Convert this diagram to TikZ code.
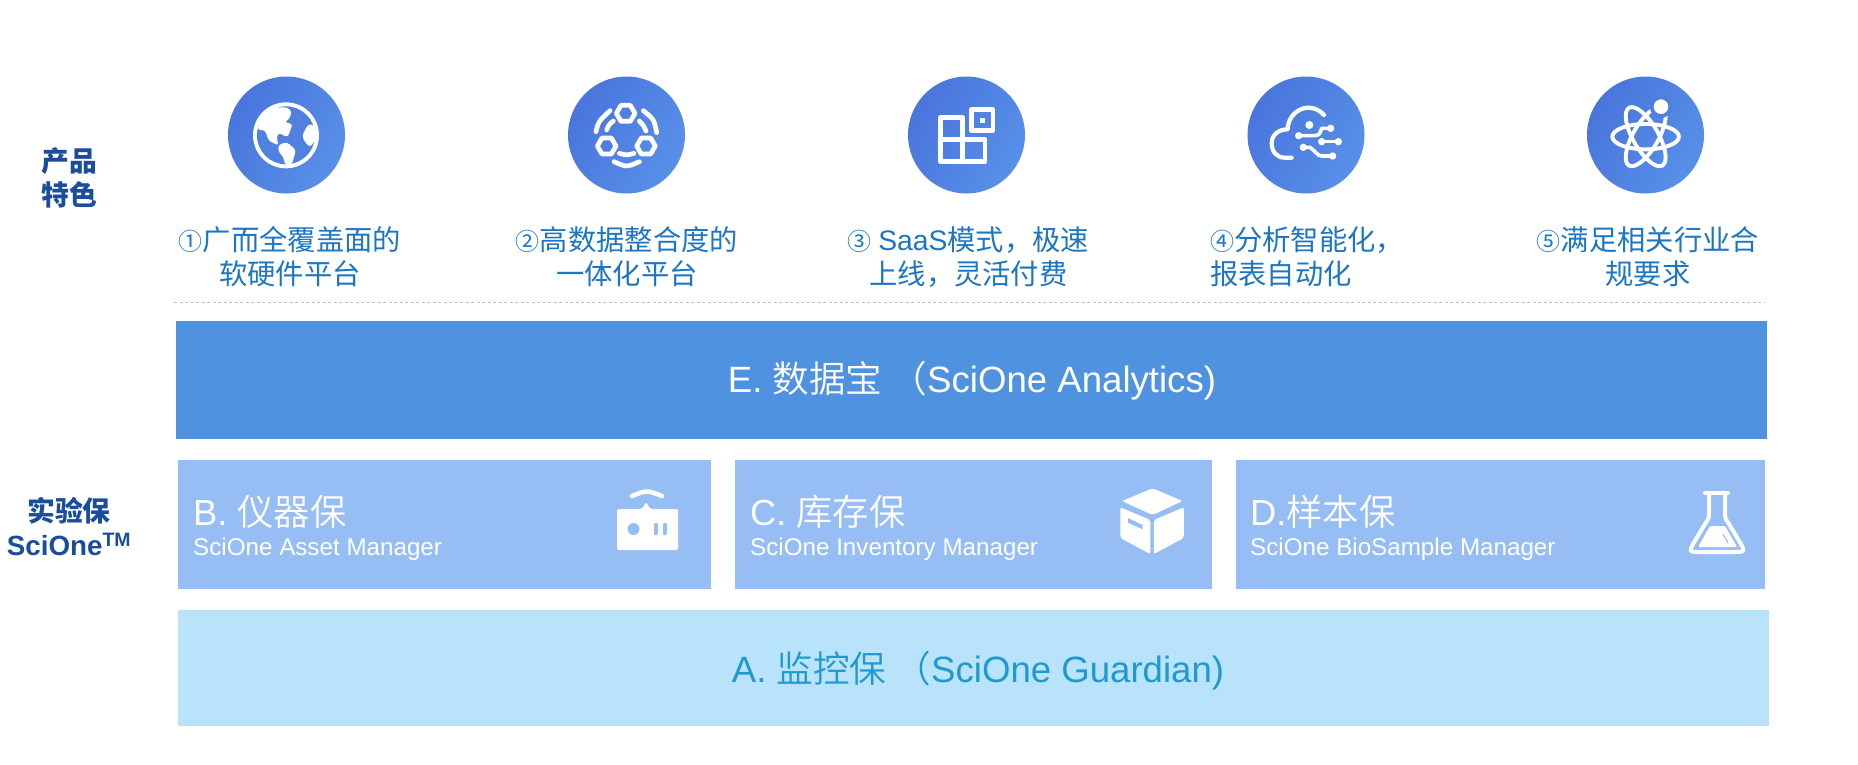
\documentclass[tikz,border=0pt]{standalone}
\usepackage{fontspec}
\setmainfont{Liberation Sans}
\newfontfamily\cjk{Noto Sans CJK SC}
\newfontfamily\cjkl{Noto Sans CJK SC}[UprightFont={* DemiLight}]
\usetikzlibrary{calc}
\definecolor{boxE}{HTML}{4F92E0}
\definecolor{boxM}{HTML}{96BEF5}
\definecolor{boxA}{HTML}{B9E2FB}
\definecolor{txtA}{HTML}{1E9AD0}
\definecolor{txtF}{HTML}{1B76C4}
\definecolor{txtL}{HTML}{1A4D9B}
\definecolor{circA}{HTML}{4975DC}
\definecolor{circB}{HTML}{5890E8}
\definecolor{circM}{HTML}{4F7EE0}
\newcommand{\dgt}[1]{{\fontsize{24}{34}\selectfont #1}}
\tikzset{
  x=1pt,y=-1pt,
  bigt/.style={font=\fontsize{36.6}{40}\selectfont,inner sep=0pt},
  feat/.style={text=txtF,inner sep=0pt,font=\cjk\fontsize{28.3}{34}\selectfont},
  sidet/.style={text=txtL,inner sep=0pt,font=\bfseries\fontsize{27.8}{34}\selectfont,align=center},
  titlet/.style={text=white,inner sep=0pt,anchor=base west,font=\fontsize{36.3}{40}\selectfont},
  subt/.style={text=white,inner sep=0pt,anchor=base west,font=\fontsize{24.2}{28}\selectfont},
  disc/.style={circle,minimum size=117pt,inner sep=0pt,left color=circA,right color=circB,shading angle=60},
  ico/.style={draw=white,line width=4.7pt,line cap=round,line join=round},
  zoomed/.style={x=0.33333pt,y=-0.33333pt},
}
\begin{document}
\begin{tikzpicture}
\useasboundingbox (0,0) rectangle (1858,764);
\fill[white] (0,0) rectangle (1858,764);

% circles
\node[disc] (c1) at (286.5,135) {};
\node[disc] (c2) at (626.5,135) {};
\node[disc] (c3) at (966.5,135) {};
\node[disc] (c4) at (1306,135) {};
\node[disc] (c5) at (1645.5,135) {};

% globe
\begin{scope}[shift={(170,50)},zoomed]
  \fill[white] (348,256) circle (99);
  \fill[circM!85!circB] (348,256) circle (87);
  \fill[white,rounded corners=3pt] (352,172) -- (366,185) -- (356,210) -- (342,216) -- (368,222) -- (353,262) -- (325,248) -- (320,265) -- (326,287) -- (296,272) -- (285,240) -- (262,240) -- (272,205) -- (310,172) -- cycle;
  \fill[white,rounded corners=3pt] (325,285) -- (350,276) -- (378,300) -- (365,345) -- (345,345) -- (340,320) -- (325,305) -- cycle;
  \fill[white,rounded corners=3pt] (415,222) -- (432,225) -- (440,265) -- (420,292) -- (408,280) -- (396,260) -- (405,240) -- cycle;
\end{scope}

% hexagons
\begin{scope}[shift={(560,60)},zoomed]
  \foreach \cx/\cy in {197/160,140/258,258/258}{
    \draw[ico] ($(\cx,\cy)+(28,0)$) -- ($(\cx,\cy)+(14,24)$) -- ($(\cx,\cy)+(-14,24)$) -- ($(\cx,\cy)+(-28,0)$) -- ($(\cx,\cy)+(-14,-24)$) -- ($(\cx,\cy)+(14,-24)$) -- cycle;
  }
  \draw[ico] (108,215) .. controls (115,185) .. (150,152);
  \draw[ico] (250,152) .. controls (282,178) .. (290,218);
  \draw[ico] (162,305) .. controls (200,322) .. (238,305);
  \draw[ico] (140,210) .. controls (146,195) .. (160,183);
  \draw[ico] (238,183) .. controls (250,195) .. (258,213);
  \draw[ico] (178,280) .. controls (200,286) .. (222,280);
\end{scope}

% blocks
\begin{scope}[shift={(740,50)},zoomed]
  \draw[ico] (695,179) rectangle (759,241);
  \fill[white] (720,203) rectangle (736,219);
  \draw[ico] (602,203) -- (668,203) -- (668,268) -- (735,268) -- (735,335) -- (602,335) -- cycle;
  \draw[ico] (602,268) -- (668,268) -- (668,335);
\end{scope}

% cloud
\begin{scope}[shift={(1240,60)},zoomed]
  \draw[ico,line width=4.2pt] (155,293) -- (135,293) .. controls (110,293) and (95,275) .. (95,250) .. controls (95,225) and (115,208) .. (143,208) .. controls (143,170) and (175,143) .. (205,143) .. controls (225,143) and (240,152) .. (252,165);
  \fill[white] (208,195) circle (12);
  \draw[ico,line width=3.6pt] (176,227) -- (222,227) .. controls (238,225) .. (245,205) -- (272,205);
  \draw[ico,line width=3.6pt] (245,245) -- (295,245);
  \draw[ico,line width=3.6pt] (190,262) -- (210,262) .. controls (225,272) and (232,288) .. (245,288) -- (278,288);
  \foreach \px/\py in {176/227,272/205,245/245,295/245,190/262,278/288}{\fill[white] (\px,\py) circle (11);}
\end{scope}

% atom
\begin{scope}[shift={(1240,60)},zoomed]
  \draw[white,line width=3.9pt] (1217,230) ellipse [x radius=100,y radius=38];
  \draw[white,line width=3.9pt,rotate around={60:(1217,230)}] (1217,230) ellipse [x radius=100,y radius=38];
  \draw[white,line width=3.9pt,rotate around={-60:(1217,230)}] (1217,230) ellipse [x radius=100,y radius=38];
  \fill[circM] (1263,140) circle (34);
  \fill[white] (1263,140) circle (22);
\end{scope}

% feature texts
\node[feat,align=center] (f1) at (290,257) {\dgt{①}广而全覆盖面的\\软硬件平台};
\node[feat,align=center] (f2) at (627,257) {\dgt{②}高数据整合度的\\一体化平台};
\node[feat,align=center] (f3) at (968.5,257) {\dgt{③} {\rmfamily SaaS}模式，极速\\上线，灵活付费};
\node[feat,align=left,anchor=west] (f4) at (1210,257) {\dgt{④}分析智能化，\\报表自动化};
\node[feat,align=center] (f5) at (1648,257) {\dgt{⑤}满足相关行业合\\规要求};

% side labels
\node[sidet,font=\cjk\bfseries\fontsize{27.8}{34}\selectfont] (s1) at (69,178) {产品\\特色};
\node[sidet] (s2) at (69,527) {{\cjk 实验保}\\SciOne\textsuperscript{TM}};

% dashed rule
\coordinate (r1) at (174,302);
\coordinate (r2) at (1765,302);
\draw[black!25,line width=0.8pt,dash pattern=on 3pt off 2.5pt] (r1) -- (r2);

% bands
\fill[boxE] (175.5,321) rectangle (1766.5,438.5);
\fill[boxM] (178,460) rectangle (711,589);
\fill[boxM] (734.5,460) rectangle (1212,589);
\fill[boxM] (1236,460) rectangle (1765,589);
\fill[boxA] (178,610) rectangle (1769,726);

\node[bigt,text=white] (e) at (972,381) {E. {\cjkl 数据宝 （}SciOne Analytics)};
\node[bigt,text=txtA] (a) at (978,671) {A. {\cjkl 监控保 （}SciOne Guardian)};

\node[titlet] (bt) at (193,525) {B. {\cjkl 仪器保}};
\node[subt] (bs) at (193,555) {SciOne Asset Manager};
\node[titlet] (ct) at (750,525) {C. {\cjkl 库存保}};
\node[subt] (cs) at (750,555) {SciOne Inventory Manager};
\node[titlet] (dt) at (1250,525) {D.{\cjkl 样本保}};
\node[subt] (ds) at (1250,555) {SciOne BioSample Manager};

% router icon
\fill[white,rounded corners=2pt] (617,509) -- (642,509) -- (646,502) -- (650,509) -- (678,509) -- (678,550) -- (617,550) -- cycle;
\fill[boxM] (633.5,529) circle (6);
\draw[boxM,line width=4.5pt,line cap=round] (656,525) -- (656,533);
\draw[boxM,line width=4.5pt,line cap=round] (665,525) -- (665,533);
\draw[white,line width=4.5pt,line cap=round] (632,496) .. controls (647,490) .. (662,496);

% cube icon
\fill[white,rounded corners=2pt] (1152.5,488.3) -- (1182.4,501) -- (1152.5,515) -- (1122,501) -- cycle;
\fill[white,rounded corners=2pt] (1120.4,507.3) -- (1150.3,520) -- (1150.3,554) -- (1120.4,538) -- cycle;
\fill[white,rounded corners=2pt] (1153.8,520) -- (1183.8,507.3) -- (1183.8,538) -- (1153.8,554) -- cycle;
\fill[boxM] (1128,518) -- (1142.7,525) -- (1142.7,529.3) -- (1128,522.7) -- cycle;

% flask icon
\begin{scope}[xshift=-3pt]
\draw[white,line width=4pt,line join=round,line cap=round] (1708,492.5) -- (1731,492.5);
\draw[white,line width=4pt,line join=round] (1712,492) -- (1712,512) .. controls (1712,518) .. (1708,524) -- (1696,544) .. controls (1692,552) .. (1702,552) -- (1738,552) .. controls (1748,552) .. (1744,544) -- (1732,524) .. controls (1728,518) .. (1728,512) -- (1728,492);
\fill[white,rounded corners=1pt] (1713,526) -- (1728,526) -- (1740,547) -- (1701,547) -- cycle;
\draw[boxM,line width=1pt] (1726,534) -- (1731,543);
\end{scope}
\end{tikzpicture}
\end{document}
